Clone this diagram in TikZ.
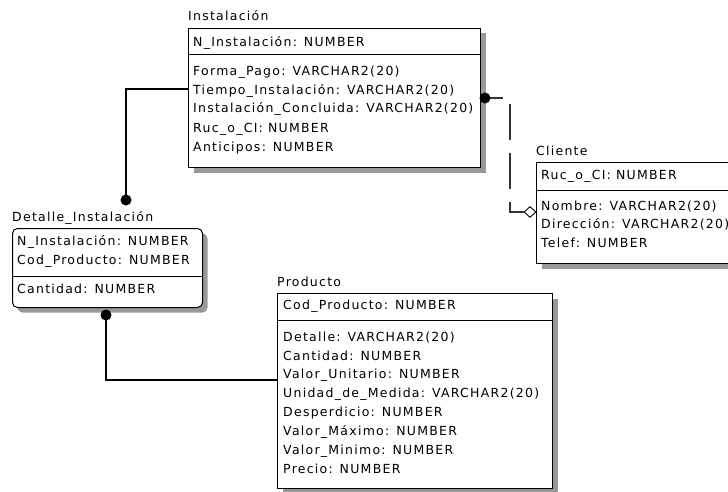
\documentclass[tikz,border=0pt]{standalone}
\usepackage{fontspec}
\setmainfont[LetterSpace=10]{DejaVu Sans}
\usetikzlibrary{shapes.geometric,shadows}
\definecolor{shgray}{gray}{0.6}
\tikzset{
  lbl/.style={anchor=base west, inner sep=0pt, font=\fontsize{12.5}{14}\selectfont},
  entbox/.style={draw=black, line width=1pt, fill=white, anchor=north west, inner sep=0pt,
    general shadow={shadow xshift=5pt, shadow yshift=-5pt, fill=shgray, draw=none}},
  divline/.style={line width=1pt, black},
  conn/.style={line width=1.3pt, black},
  dashconn/.style={line width=1.3pt, black!80, dash pattern=on 36pt off 13pt, dash phase=18pt},
  dotmark/.style={circle, fill=black, inner sep=0pt, minimum size=11pt},
  diamark/.style={diamond, draw=black, fill=white, line width=0.9pt, inner sep=0pt, minimum width=12pt, minimum height=11pt},
}
\begin{document}
\begin{tikzpicture}[x=1pt,y=-1pt]
\useasboundingbox (0,0) rectangle (728,492);
\clip (0,0) rectangle (728,492);
% ---------- entity boxes
\node[entbox, minimum width=292pt, minimum height=139pt] (inst) at (188,28) {};
\node[entbox, rounded corners=5pt, minimum width=190pt, minimum height=79pt] (det) at (12,228) {};
\node[entbox, minimum width=275pt, minimum height=195pt] (prod) at (277,293) {};
\node[entbox, minimum width=250pt, minimum height=101pt] (cli) at (536,162) {};
% dividers
\draw[divline] (inst.west |- 0,55) -- (inst.east |- 0,55);
\draw[divline] (det.west |- 0,276) -- (det.east |- 0,276);
\draw[divline] (prod.west |- 0,320) -- (prod.east |- 0,320);
\draw[divline] (cli.west |- 0,190) -- (cli.east |- 0,190);
% ---------- titles
\node[lbl] (tinst) at (188,21) {Instalación};
\node[lbl] (tdet) at (12,221) {Detalle\_Instalación};
\node[lbl] (tprod) at (277,286) {Producto};
\node[lbl] (tcli) at (536,156) {Cliente};
% ---------- Instalación rows
\node[lbl] (i1) at (193,47) {N\_Instalación: NUMBER};
\node[lbl] (i2) at (193,76) {Forma\_Pago: VARCHAR2(20)};
\node[lbl] (i3) at (193,95) {Tiempo\_Instalación: VARCHAR2(20)};
\node[lbl] (i4) at (193,113) {Instalación\_Concluida: VARCHAR2(20)};
\node[lbl] (i5) at (193,132) {Ruc\_o\_CI: NUMBER};
\node[lbl] (i6) at (193,151) {Anticipos: NUMBER};
% ---------- Detalle rows
\node[lbl] (e1) at (17,245) {N\_Instalación: NUMBER};
\node[lbl] (e2) at (17,264) {Cod\_Producto: NUMBER};
\node[lbl] (e3) at (17,293) {Cantidad: NUMBER};
% ---------- Producto rows
\node[lbl] (p1) at (283,309) {Cod\_Producto: NUMBER};
\node[lbl] (p2) at (283,341) {Detalle: VARCHAR2(20)};
\node[lbl] (p3) at (283,360) {Cantidad: NUMBER};
\node[lbl] (p4) at (283,378) {Valor\_Unitario: NUMBER};
\node[lbl] (p5) at (283,397) {Unidad\_de\_Medida: VARCHAR2(20)};
\node[lbl] (p6) at (283,416) {Desperdicio: NUMBER};
\node[lbl] (p7) at (283,435) {Valor\_Máximo: NUMBER};
\node[lbl] (p8) at (283,454) {Valor\_Minimo: NUMBER};
\node[lbl] (p9) at (283,473) {Precio: NUMBER};
% ---------- Cliente rows
\node[lbl] (c1) at (541,179) {Ruc\_o\_CI: NUMBER};
\node[lbl] (c2) at (541,210) {Nombre: VARCHAR2(20)};
\node[lbl] (c3) at (541,228) {Dirección: VARCHAR2(20)};
\node[lbl] (c4) at (541,247) {Telef: NUMBER};
% ---------- connectors
\coordinate (pa) at (126,200);
\coordinate (pb) at (106,315);
\coordinate (pc) at (485,98);
\coordinate (bend) at (510,212);
\node[diamark] (dm) at (530,212) {};
\draw[conn] (inst.west |- 0,89) -| (pa);
\draw[conn] (pb) |- (prod.west |- 0,380);
\draw[dashconn] (pc) -| (bend) -- (dm.west);
\node[dotmark] (da) at (pa) {};
\node[dotmark] (db) at (pb) {};
\node[dotmark] (dc) at (pc) {};
\end{tikzpicture}
\end{document}
